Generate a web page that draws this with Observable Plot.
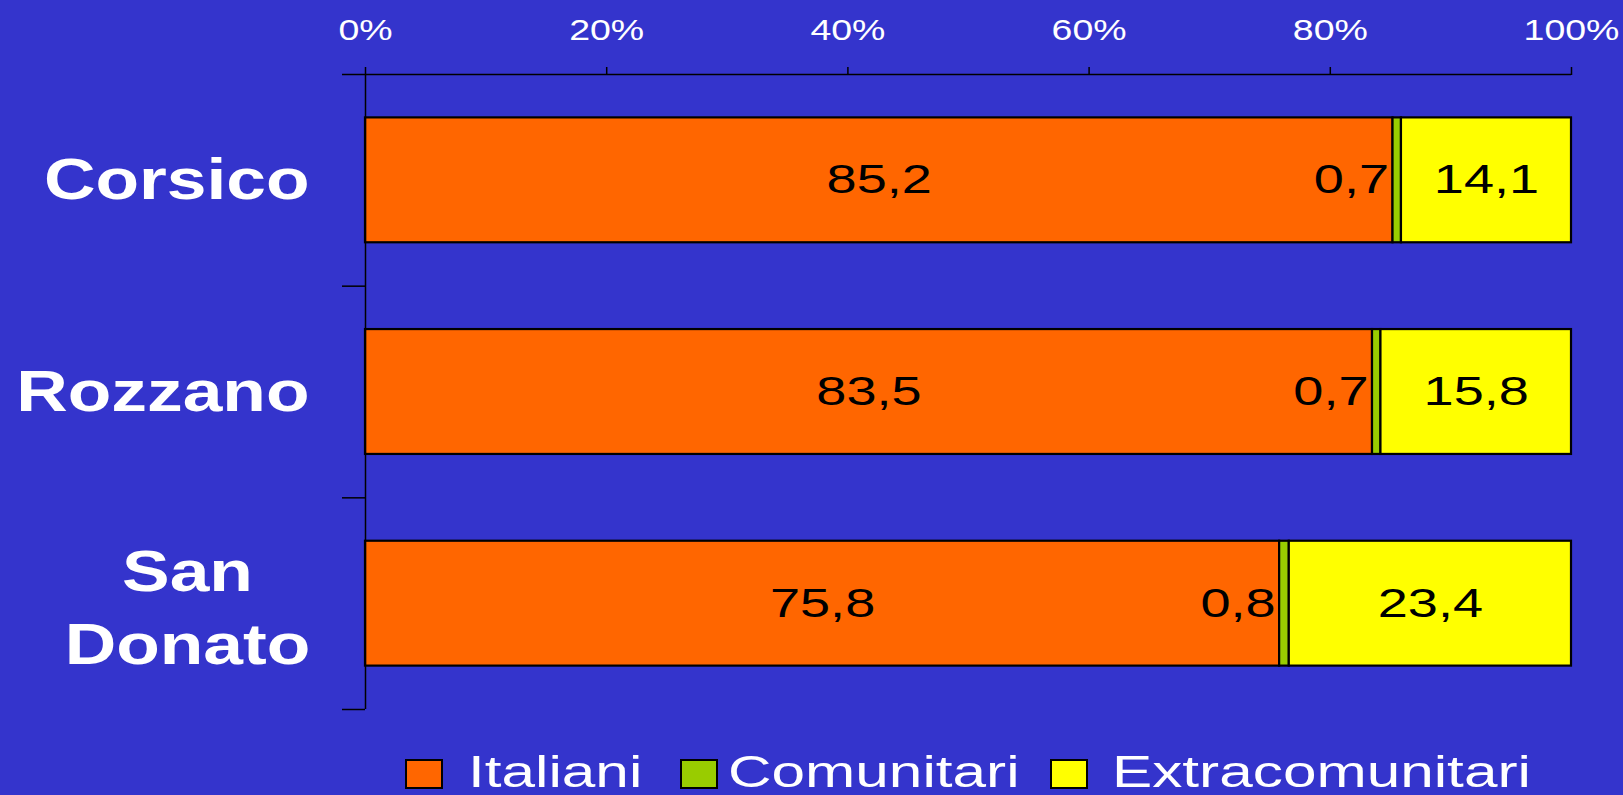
<!DOCTYPE html>
<html><head><meta charset="utf-8">
<script src="https://cdn.jsdelivr.net/npm/d3@7"></script>
<script src="https://cdn.jsdelivr.net/npm/@observablehq/plot@0.6"></script>
<style>
body{margin:0;background:#3434CC;font-family:"Liberation Sans",Arial,sans-serif;width:1623px;height:795px;overflow:hidden;position:relative}
#chart svg{display:block;background:transparent}
.sw{position:absolute;top:759px;width:38px;height:30px;border:2.5px solid #000;box-sizing:border-box}
.lt{position:absolute;top:749px;font-size:45px;line-height:45px;color:#fff;white-space:nowrap;transform:scaleX(1.34);transform-origin:left center}
</style>
</head><body>
<div id="chart"></div>
<div id="legend"></div>
<script>
const categories = ["Corsico", "Rozzano", "San Donato"];
const series = ["Italiani", "Comunitari", "Extracomunitari"];
const italiani = [85.2, 83.5, 75.8];
const comunitari = [0.7, 0.7, 0.8];
const extracomunitari = [14.1, 15.8, 23.4];
const xTicks = [0, 20, 40, 60, 80, 100];
const colors = ["#FF6600", "#99CC00", "#FFFF00"];

const values = [italiani, comunitari, extracomunitari];
const pad = 0.205;
const rows = [];
categories.forEach((c, i) => {
  let s = 0;
  values.forEach((arr, k) => {
    rows.push({cat: c, idx: i, series: series[k], k, value: arr[i], x1: s, x2: s + arr[i], y1: i + pad, y2: i + 1 - pad});
    s += arr[i];
  });
});
const catRows = categories.map((c, i) => ({label: c.replace(" ", "\n"), idx: i}));
const fmt = v => d3.format(".1f")(v).replace(".", ",");

const W = 1623, H = 720;
const chart = Plot.plot({
  width: W, height: H,
  marginLeft: 365, marginRight: 52, marginTop: 74, marginBottom: 11,
  style: {fontFamily: '"Liberation Sans", Arial, sans-serif', background: "transparent", overflow: "visible"},
  x: {domain: [0, 100], axis: null},
  y: {domain: [0, 3], reverse: true, axis: null},
  color: {domain: series, range: colors},
  marks: [
    Plot.rect(rows, {x1: "x1", x2: "x2", y1: "y1", y2: "y2", fill: "series", stroke: "black", strokeWidth: 2.2}),
    Plot.ruleY([0], {stroke: "black", strokeWidth: 1.5}),
    Plot.ruleX([0], {stroke: "black", strokeWidth: 1.5}),
    Plot.axisY({ticks: [0, 1, 2, 3], tickSize: 23, tickFormat: () => "", stroke: "black", strokeWidth: 1.5, label: null}),
    Plot.axisX({anchor: "top", ticks: xTicks, tickFormat: d => d + "%", tickSize: 8, tickPadding: 27, stroke: "black", strokeWidth: 1.5, fill: "white", fontSize: 30, label: null}),
    Plot.text(catRows.filter(d => !d.label.includes("\n")), {x: () => 0, y: d => d.idx + 0.5, text: "label", textAnchor: "end", dx: -56, fill: "white", fontSize: 58, fontWeight: "bold"}),
    Plot.text(catRows.filter(d => d.label.includes("\n")), {x: () => 0, y: d => d.idx + 0.5, text: "label", textAnchor: "middle", dx: -178, lineHeight: 1.26, fill: "white", fontSize: 58, fontWeight: "bold"}),
    Plot.text(rows.filter(d => d.k !== 1), {x: d => (d.x1 + d.x2) / 2, y: d => d.idx + 0.5, text: d => fmt(d.value), textAnchor: "middle", fill: "black", fontSize: 41}),
    Plot.text(rows.filter(d => d.k === 1), {x: "x1", y: d => d.idx + 0.5, text: d => fmt(d.value), textAnchor: "end", dx: -4, fill: "black", fontSize: 41})
  ]
});
document.getElementById("chart").append(chart);

// widen glyphs horizontally, as in the reference (stretched rendering)
const stretch = {58: 1.23, 41: 1.32, 30: 1.25};
chart.querySelectorAll("text").forEach(t => {
  const cs = getComputedStyle(t);
  const f = stretch[Math.round(parseFloat(cs.fontSize))];
  if (!f) return;
  const b = t.getBBox();
  const anchor = cs.textAnchor;
  const ax = anchor === "middle" ? b.x + b.width / 2 : anchor === "end" ? b.x + b.width : b.x;
  const tr = t.getAttribute("transform") || "";
  t.setAttribute("transform", `${tr} translate(${ax},0) scale(${f},1) translate(${-ax},0)`.trim());
});

// legend
const legend = document.getElementById("legend");
const swX = [405, 680, 1050];
const txX = [468, 728, 1112];
series.forEach((s, k) => {
  const sw = document.createElement("div");
  sw.className = "sw"; sw.style.left = swX[k] + "px"; sw.style.background = colors[k];
  const t = document.createElement("div");
  t.className = "lt"; t.style.left = txX[k] + "px"; t.textContent = s;
  legend.append(sw, t);
});
</script>
</body></html>
